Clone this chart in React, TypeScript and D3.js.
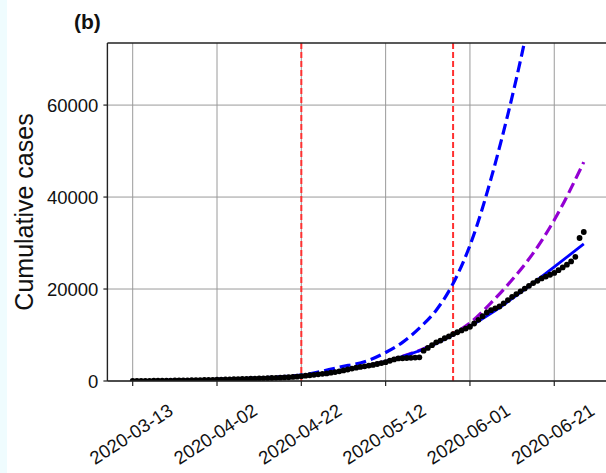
import React from "react";
import * as d3 from "d3";

// daily cumulative cases, starting 2020-03-13
const startDate = "2020-03-13";
const cases = [
  10, 15, 20, 30, 40, 50, 60, 75, 90, 100, 110, 125, 140, 150, 165, 180, 200, 220, 240,
  260, 290, 310, 330, 350, 380, 400, 430, 460, 490, 520, 550, 580, 610, 650, 690, 730, 770, 820, 880,
  950, 1050, 1150, 1250, 1350, 1450, 1550, 1650, 1800, 1950,
  2100, 2300, 2500, 2700, 2900, 3050, 3200, 3350, 3500, 3700, 3900, 4100, 4400, 4700, 4900, 4950,
  5000, 5050, 5100, 5150, 6600, 7200, 7800, 8400, 8800, 9300, 9700, 10200, 10600, 11000, 11400,
  11800, 12500, 13300, 14100, 14900, 15400, 15800, 16200, 16900, 17600, 18300, 18900, 19500, 20100,
  20700, 21300, 21800, 22300, 22700, 23100, 23500, 24100, 24700, 25300, 26000, 27000, 31100, 32400,
];

// fitted curves
const fitDates = [
  "2020-03-13", "2020-04-02", "2020-04-22", "2020-05-02", "2020-05-12", "2020-05-22",
  "2020-05-28", "2020-06-01", "2020-06-06", "2020-06-11", "2020-06-16", "2020-06-21", "2020-06-28",
];
const fitSolid = [50, 300, 1100, 2300, 4300, 7300, 10000, 11900, 14700, 17900, 21300, 24800, 29800];
const fitPurple = [50, 300, 1100, 2300, 4300, 7400, 10200, 12600, 17000, 22000, 27800, 35000, 47600];

const expDates = [
  "2020-03-13", "2020-04-02", "2020-04-22", "2020-05-01", "2020-05-08", "2020-05-12", "2020-05-16",
  "2020-05-20", "2020-05-24", "2020-05-28", "2020-06-02", "2020-06-06", "2020-06-10", "2020-06-14", "2020-06-16",
];
const expValues = [60, 350, 1300, 3000, 4500, 6200, 8400, 11500, 15400, 21200, 32000, 44000, 58000, 74000, 83000];

const markerDates = ["2020-04-22", "2020-05-28"];
const tickDates = ["2020-03-13", "2020-04-02", "2020-04-22", "2020-05-12", "2020-06-01", "2020-06-21"];
const yTicks = [0, 20000, 40000, 60000];

const W = 606;
const H = 473;
const left = 107.4;
const top = 43;
const bottom = 381;
const right = 617.5;
const font = "'Liberation Sans', Arial, sans-serif";

const parse = d3.utcParse("%Y-%m-%d");

export default function App() {
  const x = d3
    .scaleUtc()
    .domain([parse("2020-03-07")!, parse("2020-07-06")!])
    .range([left, right]);
  const y = d3.scaleLinear().domain([0, 73500]).range([bottom, top]);

  const start = parse(startDate)!;
  const points = cases.map((v, i) => ({ d: d3.utcDay.offset(start, i), v }));

  const line = d3
    .line<[Date, number]>()
    .x((d) => x(d[0]))
    .y((d) => y(d[1]))
    .curve(d3.curveMonotoneX);

  const pair = (dates: string[], vals: number[]) =>
    dates.map((s, i) => [parse(s)!, vals[i]] as [Date, number]);

  const fmt = d3.utcFormat("%Y-%m-%d");

  return (
    <svg width={W} height={H} style={{ position: "absolute", left: 0, top: 0, background: "#fff" }}>
      <rect x={0} y={0} width={7} height={H} fill="#effcfe" />
      <defs>
        <clipPath id="plot">
          <rect x={left} y={top} width={right - left} height={bottom - top} />
        </clipPath>
      </defs>

      {/* grid */}
      {tickDates.map((s) => (
        <line key={s} x1={x(parse(s)!)} x2={x(parse(s)!)} y1={top} y2={bottom} stroke="#9a9a9a" strokeWidth={1} />
      ))}
      {yTicks.map((t) => (
        <line key={t} x1={left} x2={right} y1={y(t)} y2={y(t)} stroke="#9a9a9a" strokeWidth={1} />
      ))}

      <g clipPath="url(#plot)">
        {markerDates.map((s) => (
          <line
            key={s}
            x1={x(parse(s)!)}
            x2={x(parse(s)!)}
            y1={top}
            y2={bottom}
            stroke="#ff3030"
            strokeWidth={2}
            strokeDasharray="6,3"
          />
        ))}
        <path d={line(pair(expDates, expValues))!} fill="none" stroke="#0000ff" strokeWidth={3.2} strokeDasharray="11,5" />
        <path d={line(pair(fitDates, fitPurple))!} fill="none" stroke="#9400d3" strokeWidth={3.2} strokeDasharray="11,5" />
        <path d={line(pair(fitDates, fitSolid))!} fill="none" stroke="#0000ff" strokeWidth={2.8} />
        {points.map((p, i) => (
          <circle key={i} cx={x(p.d)} cy={y(p.v)} r={2.9} fill="#000" />
        ))}
      </g>

      {/* spines */}
      <line x1={left} x2={left} y1={top} y2={bottom} stroke="#222" strokeWidth={1.4} />
      <line x1={left} x2={right} y1={bottom} y2={bottom} stroke="#222" strokeWidth={1.4} />
      <line x1={left} x2={right} y1={top} y2={top} stroke="#222" strokeWidth={1.4} />

      {/* y ticks */}
      {yTicks.map((t) => (
        <g key={t}>
          <line x1={left - 4} x2={left} y1={y(t)} y2={y(t)} stroke="#222" strokeWidth={1.2} />
          <text
            x={left - 9}
            y={y(t)}
            textAnchor="end"
            dominantBaseline="central"
            fontFamily={font}
            fontSize={18.5}
            fill="#111"
          >
            {t}
          </text>
        </g>
      ))}

      {/* x ticks */}
      {tickDates.map((s) => {
        const px = x(parse(s)!);
        return (
          <g key={s}>
            <line x1={px} x2={px} y1={bottom} y2={bottom + 5} stroke="#222" strokeWidth={1.2} />
            <text
              transform={`translate(${px - 1.5},${434}) rotate(-33)`}
              textAnchor="middle"
              dominantBaseline="central"
              fontFamily={font}
              fontSize={18.5}
              fill="#111"
            >
              {fmt(parse(s)!)}
            </text>
          </g>
        );
      })}

      <text
        transform={`translate(33,${(top + bottom) / 2}) rotate(-90)`}
        textAnchor="middle"
        fontFamily={font}
        fontSize={25}
        fill="#111"
      >
        Cumulative cases
      </text>

      <text x={74} y={29} fontFamily={font} fontSize={21} fontWeight="bold" fill="#111">
        (b)
      </text>
    </svg>
  );
}
